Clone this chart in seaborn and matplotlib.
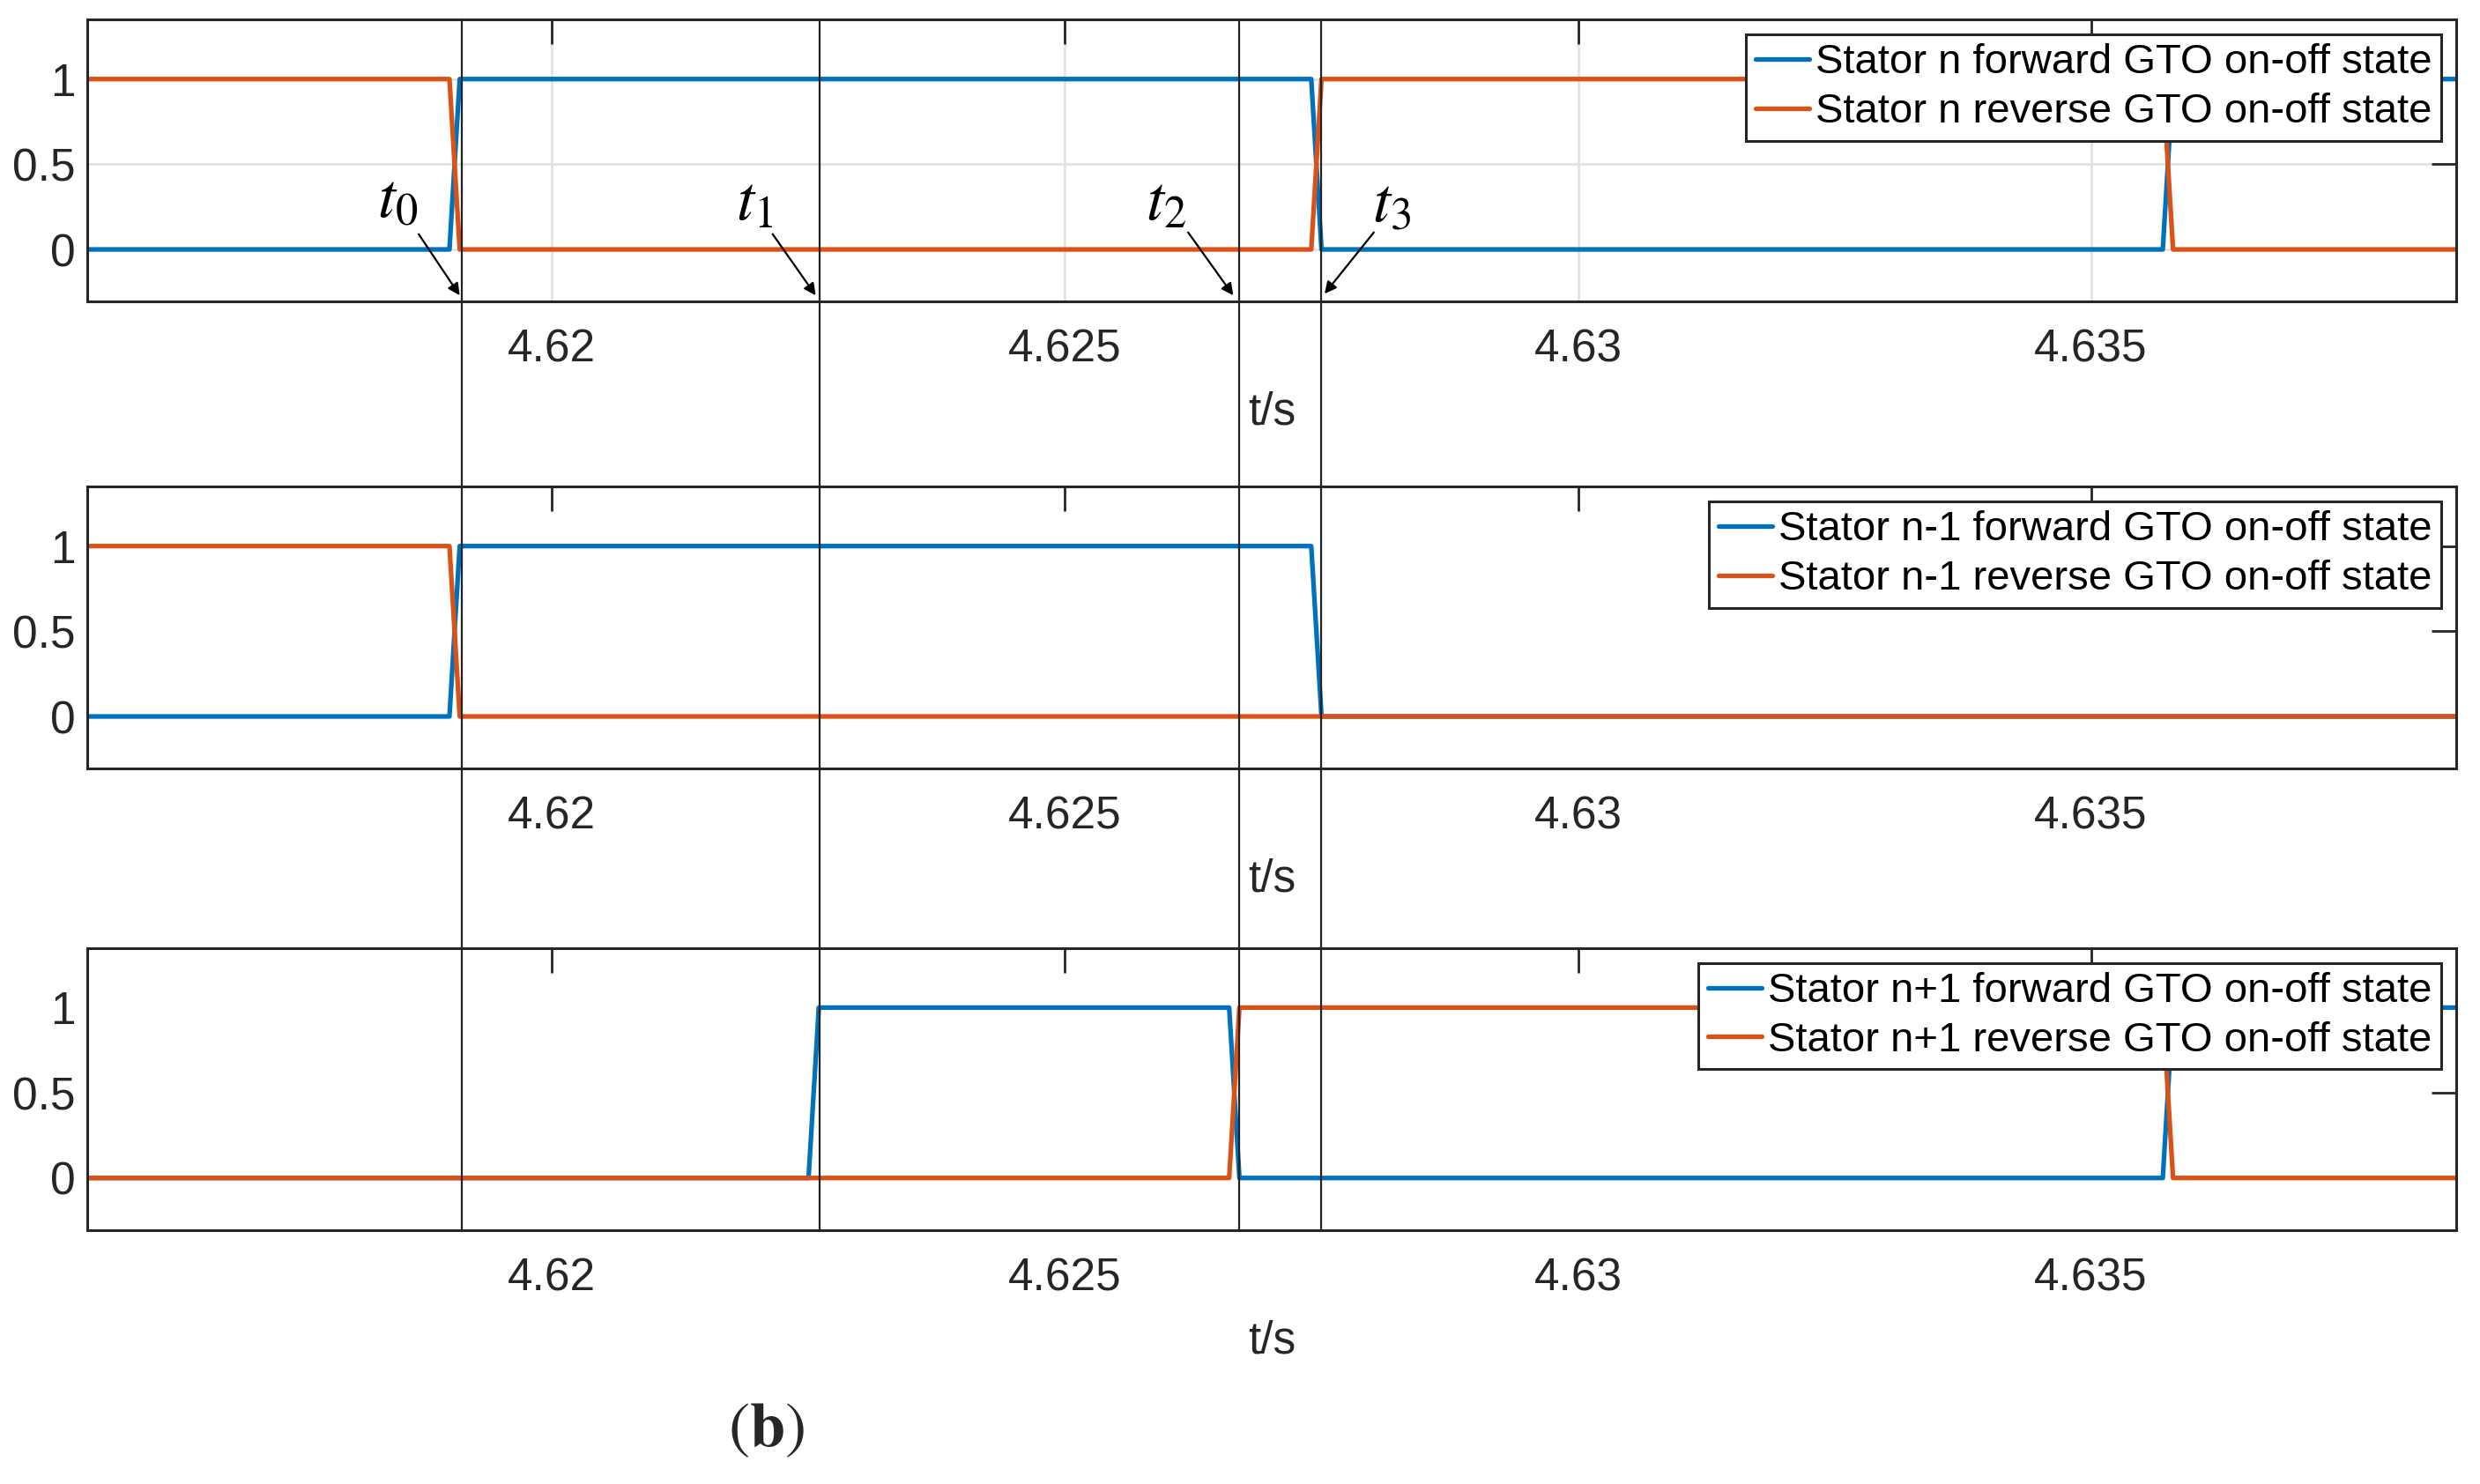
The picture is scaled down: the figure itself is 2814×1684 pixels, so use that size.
import numpy as np
import pandas as pd
import matplotlib
matplotlib.use("Agg")
import matplotlib.pyplot as plt
from matplotlib.lines import Line2D
import matplotlib.transforms as mtrans
import seaborn as sb

# DATA (breakpoints of the on-off states)
t_n = [4.6154, 4.6190, 4.6191, 4.6274, 4.6275, 4.6357, 4.6358, 4.6386]
fwd_n = [0, 0, 1, 1, 0, 0, 1, 1]
rev_n = [1, 1, 0, 0, 1, 1, 0, 0]

t_nm1_fwd = [4.6154, 4.6190, 4.6191, 4.6274, 4.6275, 4.6386]
fwd_nm1 = [0, 0, 1, 1, 0, 0]
t_nm1_rev = [4.6154, 4.6190, 4.6191, 4.6386]
rev_nm1 = [1, 1, 0, 0]

t_np1_fwd = [4.6154, 4.6225, 4.6226, 4.6266, 4.6267, 4.6357, 4.6358, 4.6386]
fwd_np1 = [0, 0, 1, 1, 0, 0, 1, 1]
t_np1_rev = [4.6154, 4.6266, 4.6267, 4.6357, 4.6358, 4.6386]
rev_np1 = [0, 0, 1, 1, 0, 0]

marks = [4.61912, 4.62261, 4.62670, 4.62750]
mark_names = ["$t_0$", "$t_1$", "$t_2$", "$t_3$"]

x_ticks = [4.62, 4.625, 4.63, 4.635]
x_ticklabels = ["4.62", "4.625", "4.63", "4.635"]
y_ticks = [0, 0.5, 1]
y_ticklabels = ["0", "0.5", "1"]

panels = [
    ("n", t_n, fwd_n, t_n, rev_n, True),
    ("n-1", t_nm1_fwd, fwd_nm1, t_nm1_rev, rev_nm1, False),
    ("n+1", t_np1_fwd, fwd_np1, t_np1_rev, rev_np1, False),
]

BLUE = "#0072BD"
ORANGE = "#D95319"
DARK = "#262626"

sb.set_theme(style="white")
plt.rcParams["font.family"] = ["Liberation Sans", "DejaVu Sans"]
plt.rcParams["mathtext.fontset"] = "stix"

fig = plt.figure(figsize=(14.07, 8.42), dpi=200)
left, width, height = 0.0352, 0.9552, 0.190
bottoms = [0.7969, 0.4822, 0.1712]
axes = []
for (name, tf, vf, tr, vr, grid), b in zip(panels, bottoms):
    ax = fig.add_axes([left, b, width, height])
    df_f = pd.DataFrame({"t": tf, "v": vf})
    df_r = pd.DataFrame({"t": tr, "v": vr})
    sb.lineplot(data=df_f, x="t", y="v", ax=ax, color=BLUE, lw=1.9,
                estimator=None, label="Stator %s forward GTO on-off state" % name)
    sb.lineplot(data=df_r, x="t", y="v", ax=ax, color=ORANGE, lw=1.9,
                estimator=None, label="Stator %s reverse GTO on-off state" % name)
    ax.set_xlim(4.61547, 4.63856)
    ax.set_ylim(-0.305, 1.35)
    ax.set_xticks(x_ticks)
    ax.set_xticklabels(x_ticklabels)
    ax.set_yticks(y_ticks)
    ax.set_yticklabels(y_ticklabels)
    ax.tick_params(direction="in", length=10, width=1.0, color=DARK,
                   labelsize=18.5, labelcolor=DARK, top=True, right=True)
    ax.tick_params(axis="x", pad=11)
    ax.tick_params(axis="y", pad=5)
    for sp in ax.spines.values():
        sp.set_color(DARK)
        sp.set_linewidth(1.1)
    if grid:
        ax.grid(True, color="#e2e2e2", lw=1.0)
        ax.set_axisbelow(True)
    else:
        ax.grid(False)
    ax.set_xlabel("t/s", fontsize=18.5, color=DARK, labelpad=8)
    ax.set_ylabel("")
    leg = ax.legend(loc="upper right", fontsize=17, frameon=True, fancybox=False,
                    framealpha=1, edgecolor=DARK, borderaxespad=0.36,
                    handlelength=1.3, handletextpad=0.15, borderpad=0.22,
                    labelspacing=0.25)
    leg.get_frame().set_linewidth(1.1)
    for txt in leg.get_texts():
        txt.set_color("black")
    axes.append(ax)

# vertical time markers through all panels
tr = mtrans.blended_transform_factory(axes[0].transData, fig.transFigure)
for m in marks:
    fig.add_artist(Line2D([m, m], [bottoms[2], bottoms[0] + height],
                          transform=tr, color="#222222", lw=0.8))

# labels t0..t3 with arrows in the top panel
ax = axes[0]
label_pos = [(4.61849, 0.29), (4.62197, 0.27), (4.62598, 0.27), (4.62818, 0.26)]
arrow_start = [(4.61870, 0.09), (4.62215, 0.09), (4.62620, 0.10), (4.62801, 0.10)]
arrow_end = [(4.61910, -0.27), (4.62257, -0.27), (4.62664, -0.27), (4.62753, -0.26)]
for name, lp, s, e in zip(mark_names, label_pos, arrow_start, arrow_end):
    ax.text(lp[0], lp[1], name, fontsize=26, ha="center", va="center", color="black")
    ax.annotate("", xy=e, xytext=s,
                arrowprops=dict(arrowstyle="-|>", color="black", lw=0.8,
                                mutation_scale=10, shrinkA=0, shrinkB=0))

fig.text(0.3088, 0.035, r"($\mathbf{b}$)", fontsize=26, ha="center", va="center",
         family="STIXGeneral")

fig.savefig("out.png", dpi=200)
